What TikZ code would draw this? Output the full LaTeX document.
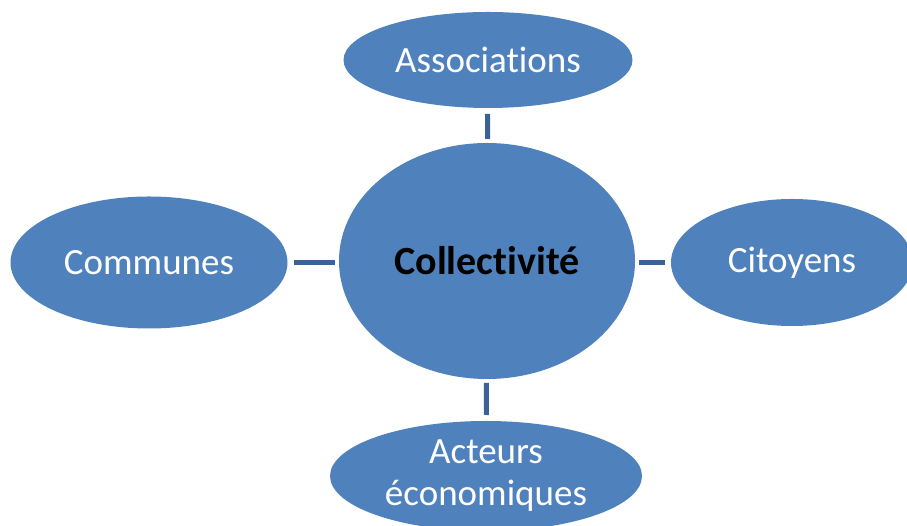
\documentclass[tikz,border=0pt]{standalone}
\usepackage{fontspec}
\setmainfont{Carlito}[Ligatures=CommonOff]
\usetikzlibrary{shapes,positioning}
\definecolor{bubbleblue}{RGB}{79,129,189}
\definecolor{linkblue}{RGB}{58,98,148}

\begin{document}
\begin{tikzpicture}[x=1pt,y=1pt,
        every node/.style={font=\fontsize{37}{42}\selectfont},
        bubble/.style={ellipse,fill=bubbleblue,text=white,inner sep=0pt,outer sep=0pt},
        link/.style={draw=linkblue,line width=5pt,shorten <=4pt,shorten >=6pt}]
                \useasboundingbox (0,0) rectangle (907,526);
                \node[bubble,minimum width=296pt,minimum height=236pt,text=black,
                    font=\fontsize{40}{46}\selectfont\bfseries] (coll) at (487,265) {Collectivité};
                \node[bubble,minimum width=289pt,minimum height=96pt] (assoc) at (488,466) {Associations};
                \node[bubble,minimum width=277pt,minimum height=132pt] (comm) at (149,263.5) {Communes};
                \node[bubble,minimum width=242pt,minimum height=127pt] (cit) at (792,263.5) {Citoyens};
                \node[bubble,minimum width=312pt,minimum height=110pt,align=center] (act) at (486,50) {Acteurs\\économiques};
                \draw[link] (coll) -- (assoc);
                \draw[link] (coll.west |- comm) -- (comm);
                \draw[link] (coll.east |- cit) -- (cit);
                \draw[link] (coll) -- (act);
            \end{tikzpicture}
\end{document}
